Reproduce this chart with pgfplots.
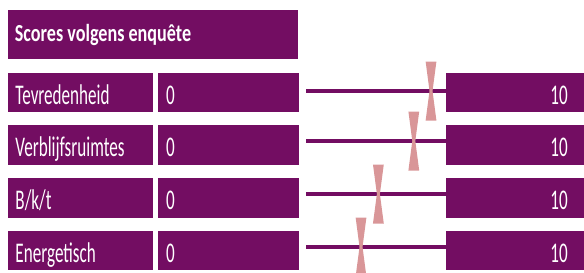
\documentclass[border=0pt]{standalone}
\usepackage{pgfplots}
\pgfplotsset{compat=1.18}
\usepackage{fontspec}
\setmainfont{Carlito}
\newfontfamily\rowfont[FakeStretch=0.6]{Carlito}
\newfontfamily\titlefont[FakeStretch=0.74]{Carlito}
\definecolor{purp}{RGB}{115,13,98}
\definecolor{pinkm}{RGB}{217,150,152}
\pgfdeclareplotmark{hourglass}{%
  \pgfsetcornersarced{\pgfqpoint{2bp}{2bp}}%
  \pgfpathmoveto{\pgfqpoint{0bp}{29.5bp}}%
  \pgfpathlineto{\pgfqpoint{5.4bp}{29.5bp}}%
  \pgfpathlineto{\pgfqpoint{1.5bp}{0bp}}%
  \pgfpathlineto{\pgfqpoint{5.4bp}{-29.5bp}}%
  \pgfpathlineto{\pgfqpoint{-5.4bp}{-29.5bp}}%
  \pgfpathlineto{\pgfqpoint{-1.5bp}{0bp}}%
  \pgfpathlineto{\pgfqpoint{-5.4bp}{29.5bp}}%
  \pgfpathclose
  \pgfusepathqfill}
\pgfplotstableread{
x y
8.93 91
7.70 141
5.17 194
3.93 247
}\scores
\newcommand\rowtxt{\rowfont\fontsize{28.5bp}{30bp}\selectfont}
\begin{document}
\begin{tikzpicture}
\useasboundingbox (0,0) rectangle (584bp,273bp);
% layout boxes (absolute, y measured from top)
\fill[purp] (8bp,{(273-10)*1bp}) rectangle (298bp,{(273-59.3)*1bp});
\foreach \rtop in {72.7,125.3,178,230.7}{
  \fill[purp] (8bp,{(273-\rtop)*1bp}) rectangle (153bp,{(273-\rtop-39.6)*1bp});
  \fill[purp] (158bp,{(273-\rtop)*1bp}) rectangle (298.5bp,{(273-\rtop-39.6)*1bp});
  \fill[purp] (446bp,{(273-\rtop)*1bp}) rectangle (584bp,{(273-\rtop-39.6)*1bp});
}
% data axis: scale 0..10 between the 0 and 10 boxes
\begin{axis}[at={(306bp,0)},anchor=south west,scale only axis,width=140bp,height=273bp,
  xmin=0,xmax=10,ymin=0,ymax=273,y dir=reverse,hide axis,clip=false]
\addplot[purp,line width=4bp] coordinates {(0,91) (10,91)};
\addplot[purp,line width=4bp] coordinates {(0,141) (10,141)};
\addplot[purp,line width=4bp] coordinates {(0,194) (10,194)};
\addplot[purp,line width=4bp] coordinates {(0,247) (10,247)};
\addplot[only marks,mark=hourglass,color=pinkm,fill=pinkm] table[x=x,y=y] {\scores};
\end{axis}
% texts
\node[anchor=base west,text=white,inner sep=0pt] at (14.7bp,{(273-41.7)*1bp}) {\titlefont\bfseries\fontsize{24.5bp}{26bp}\selectfont Scores volgens enquête};
\foreach \rtop/\lab in {72.7/Tevredenheid,125.3/Verblijfsruimtes,178/{B/k/t},230.7/Energetisch}{
  \node[anchor=base west,text=white,inner sep=0pt] at (15.3bp,{(273-\rtop-31.6)*1bp}) {\rowtxt \lab};
  \node[anchor=base west,text=white,inner sep=0pt] at (166bp,{(273-\rtop-31.6)*1bp}) {\rowtxt 0};
  \node[anchor=base east,text=white,inner sep=0pt] at (568bp,{(273-\rtop-31.6)*1bp}) {\rowtxt 10};
}
\end{tikzpicture}
\end{document}
